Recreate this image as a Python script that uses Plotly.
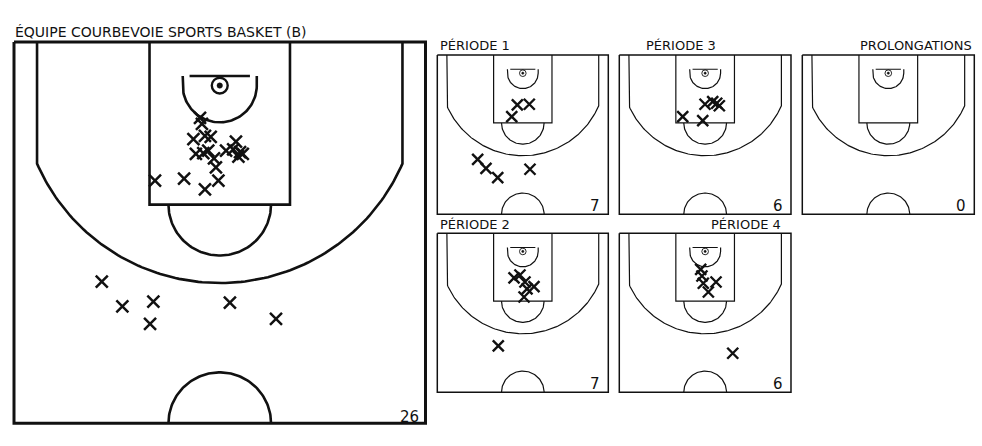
import numpy as np
import plotly.graph_objects as go

FIG_W, FIG_H = 982, 446

# ---------------- data (court coordinates in metres: x across the court, y from baseline) ----------------
team_title = "ÉQUIPE COURBEVOIE SPORTS BASKET (B)"
panel_titles = ["PÉRIODE 1", "PÉRIODE 3", "PROLONGATIONS", "PÉRIODE 2", "PÉRIODE 4"]

# all shots of the game (large court)
all_x = [-0.72, -0.65, -0.96, -0.54, -0.33, 0.59, -0.87, -0.60, -0.42, -0.21,
         0.23, 0.49, 0.68, 0.84, 0.74, -0.14, -2.36, -1.30, -0.54, -0.05,
         -4.30, -3.55, -2.42, -2.54, 0.37, 2.05]
all_y = [2.79, 3.01, 3.57, 3.45, 3.48, 3.66, 4.11, 4.08, 3.99, 4.27,
         3.99, 3.94, 4.21, 4.11, 4.04, 4.60, 5.09, 5.02, 5.41, 5.09,
         8.80, 9.71, 9.53, 10.35, 9.57, 10.17]

p1_x = [-0.48, 0.57, -0.97, -3.96, -3.23, -2.20, 0.63]
p1_y = [4.39, 4.33, 5.42, 9.17, 9.96, 10.78, 10.04]

p2_x = [-0.77, -0.25, 0.19, 0.98, 0.37, 0.11, -2.15]
p2_y = [3.93, 3.67, 4.29, 4.70, 4.90, 5.61, 9.92]

p3_x = [-1.96, -0.21, -0.01, 0.66, 1.01, 1.24]
p3_y = [5.42, 5.77, 4.33, 4.10, 4.24, 4.46]

p4_x = [-0.39, -0.28, -0.16, 0.95, 0.28, 2.41]
p4_y = [3.17, 3.76, 4.40, 4.29, 5.17, 10.56]

ot_x = []
ot_y = []

# ---------------- court geometry (metres) ----------------
CW, CL = 15.0, 14.0
PAINT_HW, PAINT_D = 2.56, 5.97
THREE_SIDE, THREE_R = 6.66, 7.25
BASKET_Y = 1.60
FT_R = 1.87
BOARD_Y, BOARD_HW = 1.25, 1.10
RA_R = 1.35
RING_R, DOT_R = 0.29, 0.10
CENTER_R = 1.87
PAD = 0.3


def court_lines():
    xs, ys = [], []

    def seg(px, py):
        xs.extend(list(px) + [None])
        ys.extend(list(py) + [None])

    # paint
    seg([-PAINT_HW, -PAINT_HW, PAINT_HW, PAINT_HW], [0, PAINT_D, PAINT_D, 0])
    # three point line
    t0 = np.arcsin(THREE_SIDE / THREE_R)
    t = np.linspace(-t0, t0, 120)
    ax = THREE_R * np.sin(t)
    ay = BASKET_Y + THREE_R * np.cos(t)
    seg([-THREE_SIDE] + list(ax) + [THREE_SIDE], [0] + list(ay) + [0])
    # free throw half circle
    t = np.linspace(-np.pi / 2, np.pi / 2, 80)
    seg(FT_R * np.sin(t), PAINT_D + FT_R * np.cos(t))
    # restricted area
    seg([-RA_R] + list(RA_R * np.sin(t)) + [RA_R],
        [BOARD_Y] + list(BASKET_Y + RA_R * np.cos(t)) + [BOARD_Y])
    # backboard
    seg([-BOARD_HW, BOARD_HW], [BOARD_Y, BOARD_Y])
    # centre circle (half)
    seg(CENTER_R * np.sin(t), CL - CENTER_R * np.cos(t))
    return xs, ys


def border():
    return ([-CW / 2, CW / 2, CW / 2, -CW / 2, -CW / 2], [0, 0, CL, CL, 0])


# panel boxes in pixels: left, top, right, bottom of the court outline
panels = [
    dict(box=(14, 42, 425.5, 423.3), x=all_x, y=all_y, lw=2.6, bw=3.0, ms=12, mw=2.5, ring=2.4),
    dict(box=(437.3, 55, 608.3, 214.3), x=p1_x, y=p1_y, lw=1.2, bw=1.5, ms=11, mw=2.4, ring=0.9),
    dict(box=(619.3, 55, 791, 214.3), x=p3_x, y=p3_y, lw=1.2, bw=1.5, ms=11, mw=2.4, ring=0.9),
    dict(box=(802.3, 55, 974.3, 214.3), x=ot_x, y=ot_y, lw=1.2, bw=1.5, ms=11, mw=2.4, ring=0.9),
    dict(box=(437.3, 233.3, 608.3, 392.3), x=p2_x, y=p2_y, lw=1.2, bw=1.5, ms=11, mw=2.4, ring=0.9),
    dict(box=(619.3, 233.3, 791, 392.3), x=p4_x, y=p4_y, lw=1.2, bw=1.5, ms=11, mw=2.4, ring=0.9),
]

INK = "#111111"
fig = go.Figure()
layout = dict(width=FIG_W, height=FIG_H, margin=dict(l=0, r=0, t=0, b=0),
              paper_bgcolor="white", plot_bgcolor="white", showlegend=False,
              hovermode=False)
shapes, annotations = [], []


def px2paper(px, py):
    return px / FIG_W, 1 - py / FIG_H


lx, ly = court_lines()
bx, by = border()

for i, p in enumerate(panels):
    n = "" if i == 0 else str(i + 1)
    L, T, R, B = p["box"]
    sx, sy = (R - L) / CW, (B - T) / CL
    xd = [(L - PAD * sx) / FIG_W, (R + PAD * sx) / FIG_W]
    yd = [1 - (B + PAD * sy) / FIG_H, 1 - (T - PAD * sy) / FIG_H]
    layout["xaxis" + n] = dict(domain=xd, range=[-CW / 2 - PAD, CW / 2 + PAD], visible=False,
                               fixedrange=True, anchor="y" + n)
    layout["yaxis" + n] = dict(domain=yd, range=[CL + PAD, -PAD], visible=False,
                               fixedrange=True, anchor="x" + n)
    xa, ya = "x" + n, "y" + n
    fig.add_trace(go.Scatter(x=lx, y=ly, mode="lines", line=dict(color=INK, width=p["lw"]),
                             xaxis=xa, yaxis=ya, hoverinfo="skip"))
    fig.add_trace(go.Scatter(x=bx, y=by, mode="lines", line=dict(color=INK, width=p["bw"]),
                             xaxis=xa, yaxis=ya, hoverinfo="skip"))
    shapes.append(dict(type="circle", xref=xa, yref=ya, x0=-RING_R, x1=RING_R,
                       y0=BASKET_Y - RING_R, y1=BASKET_Y + RING_R,
                       line=dict(color=INK, width=p["ring"])))
    shapes.append(dict(type="circle", xref=xa, yref=ya, x0=-DOT_R, x1=DOT_R,
                       y0=BASKET_Y - DOT_R, y1=BASKET_Y + DOT_R,
                       line=dict(color=INK, width=0.5), fillcolor=INK))
    fig.add_trace(go.Scatter(x=p["x"], y=p["y"], mode="markers", xaxis=xa, yaxis=ya,
                             marker=dict(symbol="x-thin", size=p["ms"],
                                         line=dict(color=INK, width=p["mw"])),
                             hoverinfo="skip", cliponaxis=False))
    # count label
    if i == 0:
        cx, cy = px2paper(R - 4.8, B - 6.6)
    else:
        cx, cy = px2paper(R - 6.0, B - 8.1)
    annotations.append(dict(text=str(len(p["x"])), xref="paper", yref="paper", x=cx, y=cy,
                            xanchor="right", yanchor="middle", showarrow=False,
                            font=dict(family="DejaVu Sans", size=15, color=INK)))

# titles
title_pos = [
    (team_title, 13, 32.3, "left", 14),
    (panel_titles[0], 437.5, 46, "left", 13),
    (panel_titles[1], 644, 46, "left", 13),
    (panel_titles[2], 974, 46, "right", 13),
    (panel_titles[3], 437.5, 224, "left", 13),
    (panel_titles[4], 782.5, 224, "right", 13),
]
for txt, px, py, anc, fs in title_pos:
    ax_, ay_ = px2paper(px, py)
    annotations.append(dict(text=txt, xref="paper", yref="paper", x=ax_, y=ay_,
                            xanchor=anc, yanchor="middle", showarrow=False,
                            font=dict(family="DejaVu Sans", size=fs, color=INK)))

layout["shapes"] = shapes
layout["annotations"] = annotations
fig.update_layout(**layout)
fig.write_html("out.html", config={"displayModeBar": False},
               post_script="document.body.style.margin='0';document.body.style.overflow='hidden';")
